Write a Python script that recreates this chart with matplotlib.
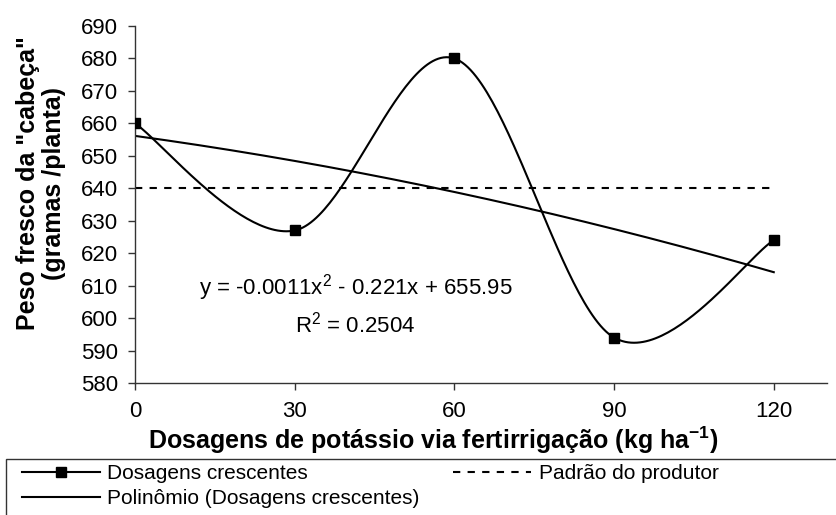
import numpy as np
import matplotlib
matplotlib.use("Agg")
import matplotlib.pyplot as plt
from matplotlib.patches import Rectangle
from matplotlib.lines import Line2D

plt.rcParams['font.family'] = ['Liberation Sans', 'DejaVu Sans']
plt.rcParams['mathtext.fontset'] = 'custom'
plt.rcParams['mathtext.rm'] = 'Liberation Sans'
plt.rcParams['mathtext.it'] = 'Liberation Sans:italic'
plt.rcParams['mathtext.bf'] = 'Liberation Sans:bold'

# ---- data ----
doses = [0, 30, 60, 90, 120]
peso = [660, 627, 680, 594, 624]
padrao_x = [0, 120]
padrao_y = [640, 640]
x_ticks = [0, 30, 60, 90, 120]
y_ticks = [580, 590, 600, 610, 620, 630, 640, 650, 660, 670, 680, 690]
eq_text = "y = -0.0011x$^2$ - 0.221x + 655.95"
r2_text = "R$^2$ = 0.2504"
labels = ['Dosagens crescentes', 'Polinômio (Dosagens crescentes)', 'Padrão do produtor']

FS = 16
FS_TITLE = 18
FS_LEG = 15
INK = '#000000'
AX = '#333333'

# Excel-style smoothed line (Bezier with 1/6 neighbour tangents)
def excel_smooth(xs, ys, n=60):
    P = np.column_stack([xs, ys]).astype(float)
    out = []
    m = len(P)
    for i in range(m - 1):
        p0 = P[i]
        p3 = P[i + 1]
        prev = P[i - 1] if i > 0 else P[i]
        nxt = P[i + 2] if i + 2 < m else P[i + 1]
        c1 = p0 + (p3 - prev) / 6.0
        c2 = p3 - (nxt - p0) / 6.0
        t = np.linspace(0, 1, n)[:, None]
        seg = ((1 - t) ** 3) * p0 + 3 * ((1 - t) ** 2) * t * c1 + 3 * (1 - t) * t ** 2 * c2 + t ** 3 * p3
        out.append(seg if i == 0 else seg[1:])
    s = np.vstack(out)
    return s[:, 0], s[:, 1]

W, H = 837, 515
fig = plt.figure(figsize=(W / 100, H / 100), dpi=100)
L, R, T, B = 135, 827, 26, 383
ax = fig.add_axes([L / W, 1 - B / H, (R - L) / W, (B - T) / H])

sx, sy = excel_smooth(doses, peso)
ax.plot(sx, sy, color=INK, lw=1.5, solid_capstyle='butt', zorder=3)
ax.plot(doses, peso, ls='none', marker='s', ms=6.5, color=INK, zorder=4)

coef = np.polyfit(doses, peso, 2)
tx = np.linspace(min(doses), max(doses), 200)
l3, = ax.plot(tx, np.polyval(coef, tx), color=INK, lw=1.5, zorder=2)

l2, = ax.plot(padrao_x, padrao_y, color=INK, lw=1.5, ls=(0, (3.5, 3.5)), zorder=2)

ax.set_xlim(0, 130)
ax.set_ylim(580, 690)
ax.set_xticks(x_ticks)
ax.set_yticks(y_ticks)
ax.tick_params(axis='both', labelsize=FS, direction='out', length=5, width=1, color=AX, labelcolor=INK)
ax.tick_params(axis='y', pad=7)
ax.tick_params(axis='x', pad=8)
for s in ['top', 'right']:
    ax.spines[s].set_visible(False)
for s in ['left', 'bottom']:
    ax.spines[s].set_color(AX)
    ax.spines[s].set_linewidth(1)

ax.text(41.4, 609.3, eq_text, fontsize=FS, ha='center', va='center', color=INK)
ax.text(41.4, 597.9, r2_text, fontsize=FS, ha='center', va='center', color=INK)

fig.text(433 / W, 1 - 440 / H, r"Dosagens de potássio via fertirrigação (kg ha$^{\mathbf{-1}}$)",
         fontsize=FS_TITLE, fontweight='bold', ha='center', va='center')
fig.text(41 / W, 1 - 183 / H, 'Peso fresco da "cabeça"\n(gramas /planta)', fontsize=FS_TITLE,
         fontweight='bold', ha='center', va='center', rotation=90, linespacing=1.1)

# legend
h1 = Line2D([], [], color=INK, lw=1.5, marker='s', ms=6.5)
fig.legend([h1, l3, l2], labels,
           loc='upper left', bbox_to_anchor=(22 / W, 1 - 464 / H), bbox_transform=fig.transFigure,
           ncol=2, frameon=False, fontsize=FS_LEG, handlelength=3.75, handletextpad=0.35,
           columnspacing=1.6, borderpad=0, borderaxespad=0, labelspacing=0.3, numpoints=1)
fig.add_artist(Rectangle((6 / W, -0.2), 2, (1 - 459 / H) + 0.2, transform=fig.transFigure,
                         fill=False, edgecolor=AX, lw=1))

fig.savefig('out.png', dpi=100)
